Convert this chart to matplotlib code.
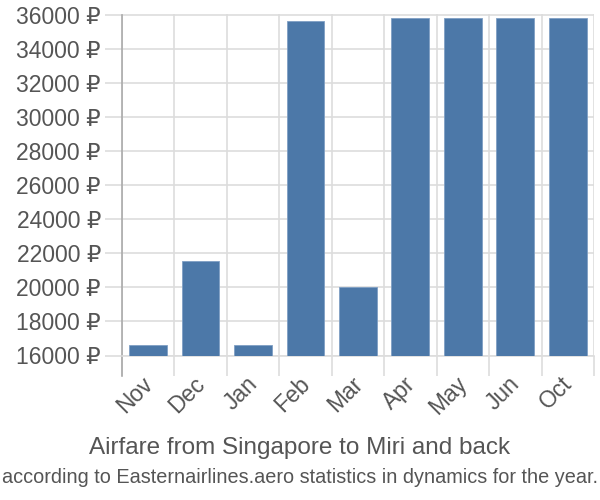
import matplotlib
matplotlib.use("Agg")
import matplotlib.pyplot as plt
import matplotlib.transforms as mtransforms
import numpy as np

plt.rcParams['font.family'] = ['Liberation Sans', 'DejaVu Sans']

months = ["Nov", "Dec", "Jan", "Feb", "Mar", "Apr", "May", "Jun", "Oct"]
prices = [16600, 21550, 16600, 35600, 20000, 35780, 35780, 35780, 35780]
y_ticks = list(range(16000, 36001, 2000))

bar_color = "#4c78a8"
grid_color = "#dddddd"
text_color = "#555555"

fig = plt.figure(figsize=(6, 5), dpi=100)
ax = fig.add_axes([0.203, 0.289, 0.787, 0.682])

x = np.arange(len(months))
ax.bar(x, prices, width=0.72, color=bar_color, edgecolor="#7f9fc4", linewidth=0.6, zorder=3)

ax.set_xlim(-0.5, len(months) - 0.5)
ax.set_ylim(16000, 36000)

# y axis
ax.set_yticks(y_ticks)
ax.set_yticklabels([f"{v} ₽" for v in y_ticks])
ax.tick_params(axis="y", length=12, width=1.2, color=grid_color,
               labelsize=16.5, labelcolor=text_color, pad=3)
ax.yaxis.grid(True, color=grid_color, linewidth=1.2, zorder=0)

# x axis: labels at centres, ticks/grid at boundaries
ax.set_xticks(x)
ax.set_xticklabels(months, rotation=45, ha="right", va="top",
                   rotation_mode="anchor")
ax.tick_params(axis="x", which="major", length=0, labelsize=16.5,
               labelcolor=text_color, pad=12)
shift = mtransforms.ScaledTranslation(-5 / 72, 0, fig.dpi_scale_trans)
for lbl in ax.get_xticklabels():
    lbl.set_transform(lbl.get_transform() + shift)
ax.set_xticks(np.arange(len(months) + 1) - 0.5, minor=True)
ax.tick_params(axis="x", which="minor", length=14.5, width=1.2, color=grid_color)
ax.xaxis.grid(True, which="minor", color=grid_color, linewidth=1.2, zorder=0)

for s in ["top", "right"]:
    ax.spines[s].set_visible(False)
ax.spines["bottom"].set_color(grid_color)
ax.spines["bottom"].set_linewidth(1.2)
ax.spines["left"].set_color("#aaaaaa")
ax.spines["left"].set_linewidth(1.2)
ax.spines["left"].set_bounds(16000, 36000)
ax.plot([-0.5, -0.5], [0, -0.06], transform=ax.get_xaxis_transform(),
        color="#aaaaaa", linewidth=1.2, clip_on=False)

fig.text(0.5, 0.092, "Airfare from Singapore to Miri and back",
         ha="center", va="baseline", fontsize=17.5, color=text_color)
fig.text(0.5, 0.034, "according to Easternairlines.aero statistics in dynamics for the year.",
         ha="center", va="baseline", fontsize=14.3, color=text_color)

fig.savefig("out.png", dpi=100)
